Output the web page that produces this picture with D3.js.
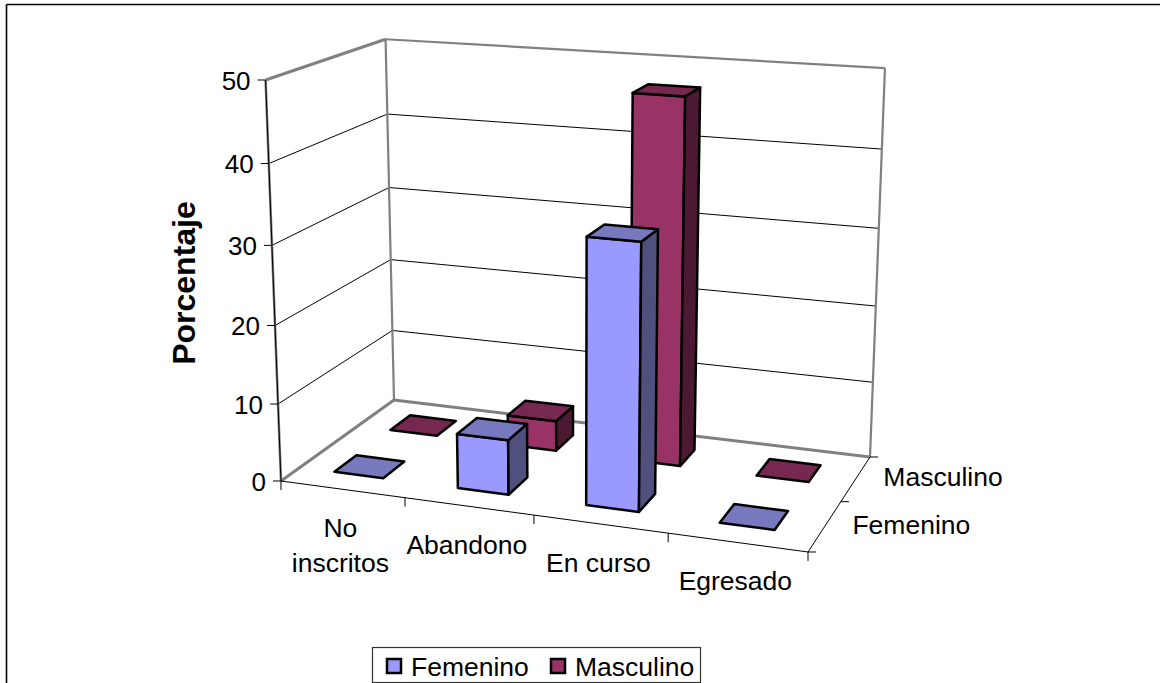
<!DOCTYPE html>
<html>
<head>
<meta charset="utf-8">
<title>Porcentaje</title>
<script src="https://cdn.jsdelivr.net/npm/d3@7"></script>
<style>
  html, body { margin: 0; padding: 0; background: #fff; overflow: hidden; }
  text { font-family: "Liberation Sans", Arial, sans-serif; fill: #000; }
</style>
</head>
<body>
<div id="chart"></div>
<script>
var categories = [['No', 'inscritos'], ['Abandono'], ['En curso'], ['Egresado']];
var categoryKeys = ['No inscritos', 'Abandono', 'En curso', 'Egresado'];
var seriesNames = ['Femenino', 'Masculino'];
var femenino = [0, 7, 33.2, 0];
var masculino = [0, 4, 47.2, 0];
var valueTicks = [0, 10, 20, 30, 40, 50];

var svg = d3.select('#chart').append('svg')
    .attr('width', 1160)
    .attr('height', 683);

var line = d3.line();

function segment(a, b, color, width) {
  svg.append('path')
      .attr('d', line([a, b]))
      .attr('fill', 'none')
      .attr('stroke', color)
      .attr('stroke-width', width);
}

// outer frame: only top and left show, the rest is cropped
segment([6.5, 4.5], [1160, 4.5], '#000', 1.6);
segment([6.5, 4.5], [6.5, 683], '#000', 1.6);

var xBand = d3.scaleBand().domain(categoryKeys).range([-0.004, 0.996]).paddingInner(0.6).paddingOuter(0.3);
var zBand = d3.scaleBand().domain(seriesNames).range([0, 1]).paddingInner(0.62).paddingOuter(0.31);
var yValue = d3.scaleLinear().domain([0, 50]).range([0, 1]);

// perspective camera, fitted to the corners of the floor and walls
function project(u, w, v) {
  var d = 1 - 0.07706 * u + 0.11718 * w - 0.05 * v;
  return [
    (281 + 464.74 * u + 159.17 * w - 28.7 * v) / d,
    (481 + 28.46 * u - 34.13 * w - 405 * v - 2.8 * u * w * v) / d
  ];
}

// walls and gridlines
valueTicks.slice(1, -1).forEach(function(t) {
  var v = yValue(t);
  segment(project(0, 0, v), project(0, 1, v), '#000', 1);
  segment(project(0, 1, v), project(1, 1, v), '#000', 1);
});
var wallGrey = '#808080';
segment(project(0, 0, 1), project(0, 1, 1), wallGrey, 3);
segment(project(0, 1, 1), project(1, 1, 1), wallGrey, 2.2);
segment(project(0, 1, 0), project(0, 1, 1), wallGrey, 2.2);
segment(project(1, 1, 0), project(1, 1, 1), wallGrey, 2.2);
segment(project(0, 0, 0), project(0, 1, 0), wallGrey, 3);
segment(project(0, 1, 0), project(1, 1, 0), wallGrey, 3);
segment(project(0, 0, 0), project(0, 0, 1), wallGrey, 2.5);
segment(project(0, 0, 0), project(0, 0, 1), '#000', 1);
segment(project(0, 0, 0), project(1, 0, 0), '#000', 1);
segment(project(1, 0, 0), project(1, 1, 0), '#000', 1);

// value axis
valueTicks.forEach(function(t) {
  var p = project(0, 0, yValue(t));
  segment([p[0] - 8, p[1]], p, '#000', 1);
  svg.append('text')
      .attr('x', p[0] - 15)
      .attr('y', p[1] + 9.5)
      .attr('text-anchor', 'end')
      .attr('font-size', 26)
      .text(t);
});

// category axis
d3.range(categories.length + 1).forEach(function(i) {
  var p = project(i / categories.length, 0, 0);
  segment(p, [p[0], p[1] + 9], '#000', 1);
});
categories.forEach(function(lines, i) {
  var p = project((i + 0.5) / categories.length, 0, 0);
  lines.forEach(function(s, j) {
    svg.append('text')
        .attr('x', p[0] - 2)
        .attr('y', p[1] + 48 + j * 35)
        .attr('text-anchor', 'middle')
        .attr('font-size', 26.5)
        .text(s);
  });
});

// depth axis
d3.range(seriesNames.length + 1).forEach(function(i) {
  var p = project(1, i / seriesNames.length, 0);
  segment(p, [p[0] + 8, p[1]], '#000', 1);
});
seriesNames.forEach(function(s, i) {
  var p = project(1, (i + 0.5) / seriesNames.length, 0);
  svg.append('text')
      .attr('x', p[0] + 27.5)
      .attr('y', p[1] + 7.5)
      .attr('font-size', 26.5)
      .text(s);
});

svg.append('text')
    .attr('transform', 'translate(195,283) rotate(-90)')
    .attr('text-anchor', 'middle')
    .attr('font-size', 32)
    .attr('font-weight', 'bold')
    .text('Porcentaje');

// bars, back row first
var faceColors = {
  Femenino: { front: '#9999ff', top: '#7878bf', side: '#50507f' },
  Masculino: { front: '#993366', top: '#772850', side: '#4c1933' }
};

function drawBar(name, key, value) {
  var u0 = xBand(key), u1 = u0 + xBand.bandwidth();
  var w0 = zBand(name), w1 = w0 + zBand.bandwidth();
  var v = yValue(value);
  var c = faceColors[name];
  var faces = [];
  if (value > 0) {
    faces.push({ fill: c.front, pts: [[u0, w0, 0], [u1, w0, 0], [u1, w0, v], [u0, w0, v]] });
    faces.push({ fill: c.side, pts: [[u1, w0, 0], [u1, w1, 0], [u1, w1, v], [u1, w0, v]] });
  }
  faces.push({ fill: c.top, pts: [[u0, w0, v], [u1, w0, v], [u1, w1, v], [u0, w1, v]] });
  svg.append('g').selectAll('path')
    .data(faces)
    .join('path')
      .attr('d', function(f) {
        return line(f.pts.map(function(p) { return project(p[0], p[1], p[2]); })) + 'Z';
      })
      .attr('fill', function(f) { return f.fill; })
      .attr('stroke', '#000')
      .attr('stroke-width', 2.5)
      .attr('stroke-linejoin', 'round');
}

categoryKeys.forEach(function(key, i) { drawBar('Masculino', key, masculino[i]); });
categoryKeys.forEach(function(key, i) { drawBar('Femenino', key, femenino[i]); });

// legend
svg.append('rect')
    .attr('x', 372.5).attr('y', 647.5)
    .attr('width', 328).attr('height', 35)
    .attr('fill', '#fff').attr('stroke', '#333').attr('stroke-width', 1.2);

var legendX = [386, 550];
seriesNames.forEach(function(s, i) {
  svg.append('rect')
      .attr('x', legendX[i] + 1).attr('y', 659)
      .attr('width', 14).attr('height', 14)
      .attr('fill', faceColors[s].front)
      .attr('stroke', '#000').attr('stroke-width', 2.5);
  svg.append('text')
      .attr('x', legendX[i] + 25)
      .attr('y', 676)
      .attr('font-size', 26.5)
      .text(s);
});
</script>
</body>
</html>
